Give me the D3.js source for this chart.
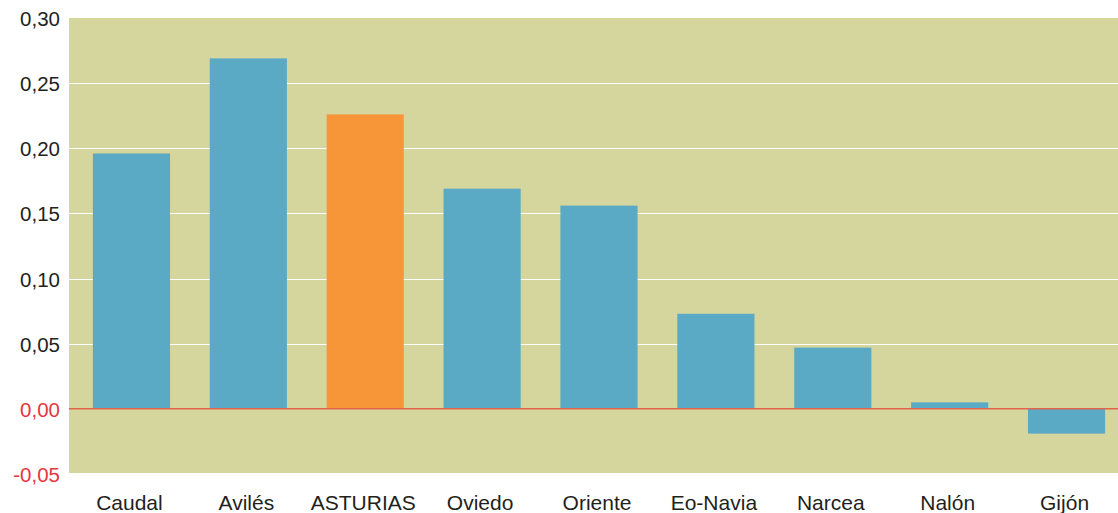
<!DOCTYPE html>
<html>
<head>
<meta charset="utf-8">
<script src="https://cdn.jsdelivr.net/npm/d3@7"></script>
<style>
body { margin: 0; background: #fff; }
text { font-family: "Liberation Sans", Arial, sans-serif; }
</style>
</head>
<body>
<div id="chart"></div>
<script>
var categories = ["Caudal", "Avilés", "ASTURIAS", "Oviedo", "Oriente", "Eo-Navia", "Narcea", "Nalón", "Gijón"];
var values = [0.196, 0.269, 0.226, 0.169, 0.156, 0.073, 0.047, 0.005, -0.019];
var highlight = "ASTURIAS";
var tickValues = [-0.05, 0, 0.05, 0.10, 0.15, 0.20, 0.25, 0.30];

var width = 1118, height = 513;
var plotLeft = 69, plotRight = 1118, plotTop = 18, plotBottom = 473;

var svg = d3.select("#chart").append("svg")
  .attr("width", width)
  .attr("height", height);

var y = d3.scaleLinear()
  .domain([-0.05, 0.30])
  .range([474, 18]);

var x = d3.scaleBand()
  .domain(categories)
  .range([73, 1125])
  .paddingInner(0.34)
  .paddingOuter(0.17);

// background
svg.append("rect")
  .attr("x", plotLeft)
  .attr("y", plotTop)
  .attr("width", plotRight - plotLeft)
  .attr("height", plotBottom - plotTop)
  .attr("fill", "#d5d59e");

// grid lines
svg.selectAll(".grid")
  .data(tickValues.filter(function(d) { return d > 0 && d < 0.30; }))
  .enter().append("line")
  .attr("class", "grid")
  .attr("x1", plotLeft)
  .attr("x2", plotRight)
  .attr("y1", function(d) { return Math.round(y(d)) + 0.5; })
  .attr("y2", function(d) { return Math.round(y(d)) + 0.5; })
  .attr("stroke", "#ffffff")
  .attr("stroke-width", 1);

// bars
svg.selectAll(".bar")
  .data(values)
  .enter().append("rect")
  .attr("class", "bar")
  .attr("x", function(d, i) { return x(categories[i]); })
  .attr("width", x.bandwidth())
  .attr("y", function(d) { return y(Math.max(0, d)); })
  .attr("height", function(d) { return Math.abs(y(d) - y(0)); })
  .attr("fill", function(d, i) { return categories[i] === highlight ? "#f69639" : "#5aaac6"; });

// zero line
svg.append("line")
  .attr("x1", plotLeft)
  .attr("x2", plotRight)
  .attr("y1", y(0))
  .attr("y2", y(0))
  .attr("stroke", "#e2654a")
  .attr("stroke-width", 1.5);

// y axis labels
var fmt = function(d) { return d3.format(".2f")(d).replace(".", ",").replace("−", "-"); };
svg.selectAll(".ylab")
  .data(tickValues)
  .enter().append("text")
  .attr("class", "ylab")
  .attr("x", 60)
  .attr("y", function(d) { return y(d) + 8; })
  .attr("text-anchor", "end")
  .attr("font-size", "20.5px")
  .attr("fill", function(d) { return d <= 0 ? "#e4383f" : "#231f20"; })
  .text(fmt);

// x axis labels
svg.selectAll(".xlab")
  .data(categories)
  .enter().append("text")
  .attr("class", "xlab")
  .attr("x", function(d) { return x(d) + x.bandwidth() / 2 - 2; })
  .attr("y", 510)
  .attr("text-anchor", "middle")
  .attr("font-size", "21px")
  .attr("fill", "#231f20")
  .text(function(d) { return d; });
</script>
</body>
</html>
